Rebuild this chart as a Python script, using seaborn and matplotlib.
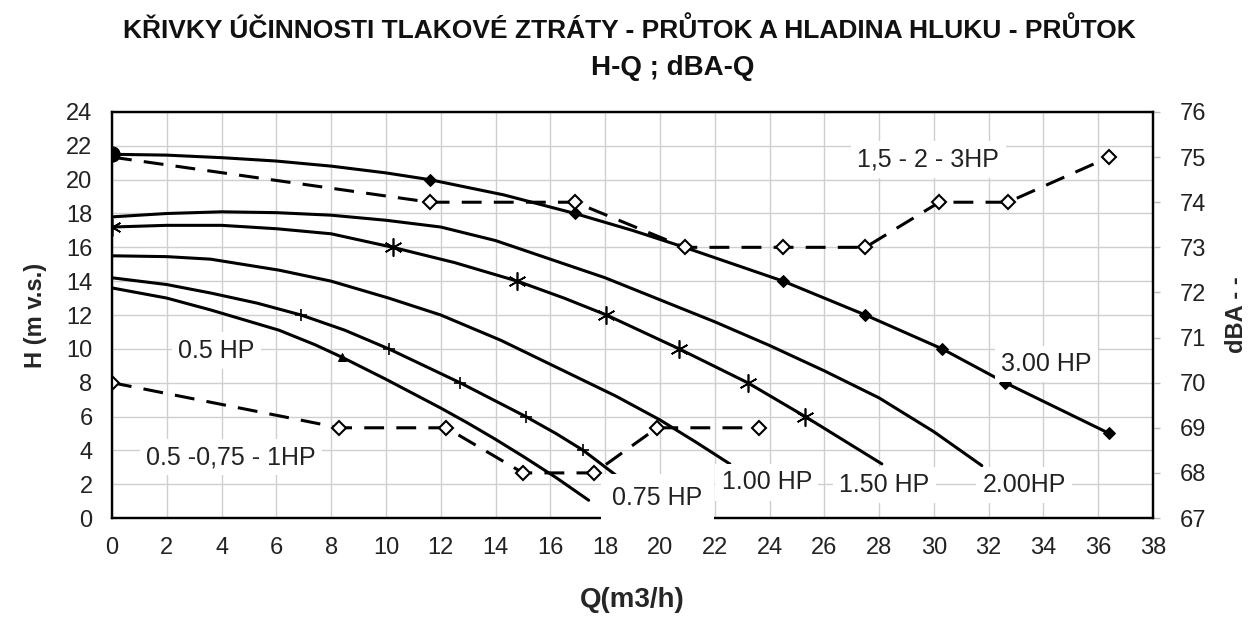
import matplotlib
matplotlib.use("Agg")
import matplotlib.pyplot as plt
import seaborn as sns

# H-Q curves, Q in m3/h, H in m v.s.
q_3hp = [0, 2, 4, 6, 8, 10, 11.6, 14.3, 16.9, 19, 20.9, 22.7, 24.5, 26, 27.5, 30.3, 32.6, 34.5, 36.4]
h_3hp = [21.5, 21.45, 21.3, 21.1, 20.8, 20.4, 20.0, 19.1, 18.0, 17.0, 16.0, 15.0, 14.0, 13.0, 12.0, 10.0, 8.0, 6.5, 5.0]

q_2hp = [0, 2, 4, 6, 8, 10, 12, 14, 16, 18, 20, 22, 24, 26, 28, 30, 31.75]
h_2hp = [17.8, 18.0, 18.1, 18.05, 17.9, 17.6, 17.2, 16.4, 15.3, 14.2, 12.9, 11.6, 10.2, 8.7, 7.1, 5.1, 3.1]

q_15hp = [0, 2, 4, 6, 8, 10.25, 12.5, 14.8, 16.5, 18.05, 20.7, 23.2, 25.3, 26.8, 28.1]
h_15hp = [17.2, 17.3, 17.3, 17.1, 16.8, 16.0, 15.1, 14.0, 13.0, 12.0, 10.0, 8.0, 6.0, 4.5, 3.2]

q_1hp = [0, 2, 3.6, 6.1, 8, 10.1, 12, 14.2, 16.3, 18.4, 20, 21.3, 22.55]
h_1hp = [15.5, 15.45, 15.3, 14.65, 14.0, 13.0, 12.0, 10.5, 8.85, 7.2, 5.8, 4.5, 3.2]

q_075hp = [0, 2, 3.6, 5.3, 6.9, 8.5, 10.1, 11.4, 12.7, 14.2, 15.1, 16.2, 17.2, 18.5]
h_075hp = [14.2, 13.8, 13.3, 12.7, 12.0, 11.1, 10.0, 9.0, 8.0, 6.75, 6.0, 5.0, 4.0, 2.4]

q_05hp = [0, 2, 3.6, 6.1, 7.4, 8.4, 10, 12, 13, 14, 15, 16.2, 17.4]
h_05hp = [13.6, 13.0, 12.3, 11.1, 10.25, 9.5, 8.2, 6.5, 5.6, 4.65, 3.65, 2.4, 1.05]

# dBA-Q curves (right axis)
q_dba_big = [0, 11.6, 16.9, 20.9, 24.5, 27.5, 30.2, 32.7, 36.4]
dba_big = [75, 74, 74, 73, 73, 73, 74, 74, 75]

q_dba_small = [0, 8.3, 12.2, 15.0, 17.6, 19.9, 23.6]
dba_small = [70, 69, 69, 68, 68, 69, 69]

x_ticks = list(range(0, 39, 2))
h_ticks = list(range(0, 25, 2))
dba_ticks = list(range(67, 77))

sns.set_theme(style="white")
plt.rcParams['font.family'] = ['Liberation Sans', 'DejaVu Sans']

fig, ax = plt.subplots(figsize=(12.57, 6.26), dpi=100)
fig.subplots_adjust(left=0.0891, right=0.9173, bottom=0.1725, top=0.8211)
ax2 = ax.twinx()

lw = 2.2
base = dict(color="black", linewidth=lw, sort=False, estimator=None,
            markeredgecolor="black")

sns.lineplot(x=q_3hp, y=h_3hp, ax=ax, marker="D", markersize=6,
             markevery=[6, 8, 10, 12, 14, 15, 16, 18], **base)
sns.lineplot(x=q_3hp[:1], y=h_3hp[:1], ax=ax, marker="o", markersize=11,
             linestyle="none", **base)
sns.lineplot(x=q_2hp, y=h_2hp, ax=ax, **base)
sns.lineplot(x=q_15hp, y=h_15hp, ax=ax, marker=(6, 2, 0), markersize=13,
             markeredgewidth=1.2, markevery=[0, 5, 7, 9, 10, 11, 12], **base)
sns.lineplot(x=q_1hp, y=h_1hp, ax=ax, **base)
sns.lineplot(x=q_075hp, y=h_075hp, ax=ax, marker="+", markersize=9,
             markeredgewidth=1.2, markevery=[0, 4, 6, 8, 10, 12], **base)
sns.lineplot(x=q_05hp, y=h_05hp, ax=ax, marker="^", markersize=6,
             markevery=[5], **base)

dash = (0, (6.5, 4))
sns.lineplot(x=q_dba_big, y=dba_big, ax=ax2, linestyle=dash, marker="D",
             markersize=7, markerfacecolor="white", markeredgewidth=1.5,
             markevery=list(range(1, len(q_dba_big))), **base)
sns.lineplot(x=q_dba_small, y=dba_small, ax=ax2, linestyle=dash, marker="D",
             markersize=7, markerfacecolor="white", markeredgewidth=1.5,
             **base)

ax.set_xlim(0, 38)
ax.set_ylim(0, 24)
ax2.set_ylim(67, 76)
ax.set_xticks(x_ticks)
ax.set_yticks(h_ticks)
ax2.set_yticks(dba_ticks)

ax.grid(True, color="#cfcfcf", linewidth=1.0)
ax2.grid(False)
for a in (ax, ax2):
    for s in a.spines.values():
        s.set_color("black")
        s.set_linewidth(1.6)
ax.tick_params(axis="x", length=0, pad=14, labelsize=17, colors="#222222")
ax.tick_params(axis="y", length=0, pad=14, labelsize=17, colors="#222222")
ax2.tick_params(axis="y", length=5, width=1, color="#bbbbbb", pad=14,
                labelsize=17, labelcolor="#222222")

ax.set_xlabel("Q(m3/h)", fontsize=20, fontweight="bold", labelpad=20)
ax.set_ylabel("H (m v.s.)", fontsize=17, fontweight="bold", labelpad=14)
ax2.set_ylabel("dBA - -", fontsize=17, fontweight="bold", labelpad=14)

fig.text(0.501, 0.952, "KŘIVKY ÚČINNOSTI TLAKOVÉ ZTRÁTY - PRŮTOK A HLADINA HLUKU - PRŮTOK",
         ha="center", va="center", fontsize=19, fontweight="bold", color="#111111")
fig.text(0.535, 0.891, "H-Q ; dBA-Q", ha="center", va="center",
         fontsize=20, fontweight="bold", color="#111111")

box = dict(boxstyle="square,pad=0.25", facecolor="white", edgecolor="none")
labels = [
    (29.8, 21.2, "1,5 - 2 - 3HP", box),
    (34.1, 9.1, "3.00 HP", box),
    (33.3, 1.95, "2.00HP", box),
    (28.2, 1.95, "1.50 HP", box),
    (23.9, 2.1, "1.00 HP", box),
    (19.9, 1.2, "0.75 HP", dict(boxstyle="square,pad=0.45", facecolor="white", edgecolor="none")),
    (3.8, 9.9, "0.5 HP", box),
    (4.35, 3.6, "0.5 -0,75 - 1HP", box),
]
for qx, hy, s, b in labels:
    ax2.text(qx, hy, s, transform=ax.transData, ha="center", va="center",
             fontsize=18, color="#222222", bbox=b, zorder=6, clip_on=False)

plt.savefig("out.png", dpi=100)
